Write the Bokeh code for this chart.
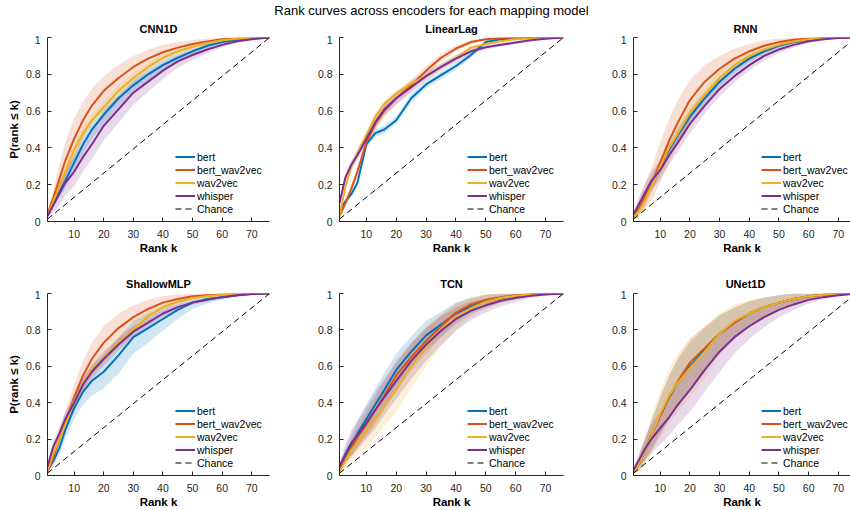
import numpy as np
from bokeh.plotting import figure
from bokeh.layouts import column, row
from bokeh.models import Range1d, FixedTicker, Legend, LegendItem
from bokeh.embed import file_html
from bokeh.resources import INLINE
from bokeh.core.properties import value

SUPTITLE = "Rank curves across encoders for each mapping model"
MODELS = ["CNN1D", "LinearLag", "RNN", "ShallowMLP", "TCN", "UNet1D"]
ENCODERS = ["bert", "bert_wav2vec", "wav2vec", "whisper"]
COLORS = ["#0072BD", "#D95319", "#EDB120", "#7E2F8E"]
X_TICKS = [10, 20, 30, 40, 50, 60, 70]
Y_TICKS = [0, 0.2, 0.4, 0.6, 0.8, 1]
Y_TICK_LABELS = ["0", "0.2", "0.4", "0.6", "0.8", "1"]
X_LABEL = "Rank k"
Y_LABEL = "P(rank \u2264 k)"
CHANCE_LABEL = "Chance"

# rank grid (k) at which the curves are read
K = [1, 3, 5, 7, 10, 13, 16, 20, 25, 30, 35, 40, 45, 50, 55, 60, 65, 70, 76]
CHANCE_K = [1, 76]
CHANCE_P = [0.013, 1.0]

# ---- CNN1D ----
CNN1D_bert = [0.03, 0.10, 0.16, 0.22, 0.32, 0.42, 0.50, 0.58, 0.67, 0.74, 0.80, 0.85, 0.89, 0.925, 0.955, 0.975, 0.988, 0.995, 1.0]
CNN1D_bert_sd = [0.005, 0.02, 0.03, 0.04, 0.045, 0.05, 0.05, 0.05, 0.045, 0.04, 0.035, 0.03, 0.025, 0.02, 0.015, 0.01, 0.006, 0.003, 0.0]
CNN1D_bert_wav2vec = [0.04, 0.13, 0.23, 0.33, 0.45, 0.55, 0.63, 0.71, 0.78, 0.84, 0.885, 0.92, 0.945, 0.965, 0.978, 0.99, 0.995, 0.998, 1.0]
CNN1D_bert_wav2vec_sd = [0.01, 0.05, 0.08, 0.10, 0.11, 0.10, 0.09, 0.08, 0.07, 0.06, 0.05, 0.04, 0.03, 0.022, 0.016, 0.01, 0.006, 0.003, 0.0]
CNN1D_wav2vec = [0.03, 0.11, 0.19, 0.27, 0.39, 0.48, 0.55, 0.62, 0.71, 0.78, 0.84, 0.89, 0.925, 0.95, 0.97, 0.985, 0.993, 0.997, 1.0]
CNN1D_wav2vec_sd = [0.005, 0.02, 0.03, 0.03, 0.035, 0.035, 0.035, 0.035, 0.035, 0.03, 0.025, 0.02, 0.018, 0.015, 0.01, 0.008, 0.005, 0.002, 0.0]
CNN1D_whisper = [0.03, 0.09, 0.15, 0.21, 0.27, 0.35, 0.42, 0.52, 0.61, 0.70, 0.76, 0.82, 0.87, 0.905, 0.935, 0.96, 0.98, 0.99, 1.0]
CNN1D_whisper_sd = [0.01, 0.04, 0.06, 0.07, 0.08, 0.08, 0.08, 0.08, 0.075, 0.065, 0.055, 0.045, 0.035, 0.028, 0.02, 0.015, 0.01, 0.005, 0.0]

# ---- LinearLag ----
LinearLag_bert = [0.06, 0.11, 0.15, 0.21, 0.42, 0.48, 0.50, 0.55, 0.67, 0.745, 0.795, 0.845, 0.905, 0.975, 0.99, 0.995, 0.998, 0.999, 1.0]
LinearLag_bert_sd = [0.01, 0.015, 0.015, 0.02, 0.02, 0.02, 0.02, 0.02, 0.025, 0.02, 0.02, 0.02, 0.015, 0.01, 0.008, 0.005, 0.004, 0.002, 0.0]
LinearLag_bert_wav2vec = [0.03, 0.10, 0.18, 0.27, 0.43, 0.53, 0.60, 0.67, 0.74, 0.82, 0.89, 0.94, 0.975, 0.99, 0.997, 0.999, 1.0, 1.0, 1.0]
LinearLag_bert_wav2vec_sd = [0.01, 0.015, 0.02, 0.025, 0.025, 0.03, 0.03, 0.03, 0.03, 0.025, 0.02, 0.015, 0.01, 0.006, 0.004, 0.002, 0.001, 0.0, 0.0]
LinearLag_wav2vec = [0.03, 0.19, 0.30, 0.37, 0.47, 0.57, 0.64, 0.695, 0.75, 0.79, 0.84, 0.89, 0.945, 0.965, 0.98, 0.99, 0.995, 0.998, 1.0]
LinearLag_wav2vec_sd = [0.01, 0.02, 0.02, 0.02, 0.02, 0.02, 0.02, 0.02, 0.02, 0.02, 0.015, 0.015, 0.01, 0.008, 0.005, 0.004, 0.003, 0.002, 0.0]
LinearLag_whisper = [0.10, 0.24, 0.31, 0.36, 0.45, 0.54, 0.61, 0.67, 0.73, 0.79, 0.84, 0.885, 0.925, 0.947, 0.96, 0.973, 0.985, 0.993, 1.0]
LinearLag_whisper_sd = [0.02, 0.02, 0.025, 0.03, 0.03, 0.035, 0.035, 0.035, 0.03, 0.025, 0.02, 0.02, 0.015, 0.012, 0.01, 0.008, 0.005, 0.003, 0.0]

# ---- RNN ----
RNN_bert = [0.02, 0.07, 0.13, 0.20, 0.30, 0.39, 0.47, 0.57, 0.67, 0.76, 0.83, 0.885, 0.925, 0.955, 0.975, 0.988, 0.995, 0.999, 1.0]
RNN_bert_sd = [0.01, 0.03, 0.04, 0.04, 0.04, 0.04, 0.04, 0.04, 0.035, 0.03, 0.025, 0.02, 0.016, 0.012, 0.01, 0.006, 0.004, 0.002, 0.0]
RNN_bert_wav2vec = [0.03, 0.08, 0.14, 0.20, 0.32, 0.44, 0.54, 0.66, 0.76, 0.83, 0.885, 0.925, 0.955, 0.975, 0.988, 0.995, 0.998, 1.0, 1.0]
RNN_bert_wav2vec_sd = [0.01, 0.04, 0.07, 0.09, 0.11, 0.12, 0.12, 0.11, 0.09, 0.07, 0.055, 0.04, 0.03, 0.02, 0.012, 0.008, 0.004, 0.002, 0.0]
RNN_wav2vec = [0.02, 0.06, 0.12, 0.19, 0.30, 0.40, 0.48, 0.59, 0.69, 0.78, 0.85, 0.90, 0.935, 0.96, 0.978, 0.99, 0.996, 0.999, 1.0]
RNN_wav2vec_sd = [0.01, 0.03, 0.04, 0.045, 0.045, 0.045, 0.045, 0.045, 0.04, 0.035, 0.03, 0.025, 0.02, 0.015, 0.01, 0.007, 0.004, 0.002, 0.0]
RNN_whisper = [0.04, 0.10, 0.16, 0.22, 0.28, 0.36, 0.43, 0.53, 0.63, 0.72, 0.79, 0.85, 0.90, 0.935, 0.96, 0.98, 0.99, 0.997, 1.0]
RNN_whisper_sd = [0.01, 0.04, 0.05, 0.05, 0.05, 0.05, 0.05, 0.05, 0.045, 0.04, 0.035, 0.03, 0.025, 0.02, 0.015, 0.01, 0.006, 0.003, 0.0]

# ---- ShallowMLP ----
ShallowMLP_bert = [0.03, 0.08, 0.15, 0.25, 0.37, 0.46, 0.52, 0.57, 0.66, 0.76, 0.81, 0.86, 0.91, 0.95, 0.97, 0.98, 0.99, 0.997, 1.0]
ShallowMLP_bert_sd = [0.01, 0.02, 0.04, 0.05, 0.06, 0.07, 0.08, 0.09, 0.10, 0.09, 0.08, 0.065, 0.05, 0.035, 0.025, 0.015, 0.01, 0.005, 0.0]
ShallowMLP_bert_wav2vec = [0.02, 0.10, 0.20, 0.29, 0.43, 0.55, 0.64, 0.73, 0.81, 0.87, 0.915, 0.95, 0.97, 0.985, 0.99, 0.995, 0.998, 1.0, 1.0]
ShallowMLP_bert_wav2vec_sd = [0.01, 0.03, 0.05, 0.06, 0.07, 0.08, 0.09, 0.09, 0.08, 0.065, 0.05, 0.035, 0.025, 0.015, 0.01, 0.006, 0.003, 0.001, 0.0]
ShallowMLP_wav2vec = [0.03, 0.12, 0.20, 0.28, 0.41, 0.50, 0.58, 0.64, 0.73, 0.80, 0.875, 0.925, 0.955, 0.975, 0.985, 0.993, 0.997, 1.0, 1.0]
ShallowMLP_wav2vec_sd = [0.01, 0.03, 0.04, 0.04, 0.04, 0.035, 0.035, 0.035, 0.03, 0.03, 0.025, 0.02, 0.015, 0.01, 0.008, 0.005, 0.003, 0.001, 0.0]
ShallowMLP_whisper = [0.05, 0.16, 0.23, 0.31, 0.40, 0.50, 0.57, 0.64, 0.72, 0.79, 0.84, 0.89, 0.925, 0.95, 0.965, 0.98, 0.99, 0.997, 1.0]
ShallowMLP_whisper_sd = [0.02, 0.03, 0.04, 0.04, 0.04, 0.04, 0.04, 0.04, 0.035, 0.03, 0.025, 0.02, 0.016, 0.012, 0.01, 0.007, 0.005, 0.002, 0.0]

# ---- TCN ----
TCN_bert = [0.04, 0.11, 0.17, 0.23, 0.31, 0.39, 0.47, 0.58, 0.68, 0.77, 0.83, 0.89, 0.93, 0.957, 0.975, 0.988, 0.995, 0.999, 1.0]
TCN_bert_sd = [0.01, 0.04, 0.06, 0.07, 0.08, 0.09, 0.09, 0.09, 0.085, 0.08, 0.07, 0.06, 0.045, 0.035, 0.025, 0.015, 0.01, 0.005, 0.0]
TCN_bert_wav2vec = [0.03, 0.09, 0.15, 0.21, 0.28, 0.36, 0.44, 0.55, 0.65, 0.74, 0.82, 0.895, 0.94, 0.965, 0.98, 0.99, 0.996, 0.999, 1.0]
TCN_bert_wav2vec_sd = [0.01, 0.03, 0.05, 0.06, 0.07, 0.08, 0.08, 0.08, 0.075, 0.07, 0.06, 0.05, 0.04, 0.03, 0.02, 0.012, 0.008, 0.004, 0.0]
TCN_wav2vec = [0.02, 0.08, 0.14, 0.18, 0.245, 0.31, 0.38, 0.47, 0.60, 0.71, 0.80, 0.87, 0.92, 0.955, 0.975, 0.988, 0.995, 0.999, 1.0]
TCN_wav2vec_sd = [0.01, 0.03, 0.05, 0.07, 0.09, 0.10, 0.11, 0.12, 0.12, 0.11, 0.09, 0.07, 0.05, 0.04, 0.03, 0.02, 0.012, 0.006, 0.0]
TCN_whisper = [0.05, 0.12, 0.18, 0.22, 0.29, 0.36, 0.43, 0.52, 0.63, 0.72, 0.795, 0.86, 0.905, 0.935, 0.96, 0.975, 0.987, 0.995, 1.0]
TCN_whisper_sd = [0.02, 0.05, 0.07, 0.08, 0.09, 0.10, 0.10, 0.10, 0.10, 0.09, 0.08, 0.065, 0.05, 0.04, 0.03, 0.02, 0.012, 0.006, 0.0]

# ---- UNet1D ----
UNet1D_bert = [0.02, 0.07, 0.14, 0.22, 0.33, 0.43, 0.51, 0.60, 0.69, 0.78, 0.84, 0.89, 0.925, 0.95, 0.97, 0.985, 0.993, 0.998, 1.0]
UNet1D_bert_sd = [0.01, 0.04, 0.06, 0.08, 0.10, 0.12, 0.13, 0.13, 0.12, 0.10, 0.08, 0.065, 0.05, 0.04, 0.03, 0.02, 0.012, 0.006, 0.0]
UNet1D_bert_wav2vec = [0.02, 0.07, 0.14, 0.22, 0.33, 0.43, 0.52, 0.62, 0.70, 0.78, 0.84, 0.89, 0.925, 0.95, 0.97, 0.985, 0.993, 0.998, 1.0]
UNet1D_bert_wav2vec_sd = [0.01, 0.04, 0.06, 0.08, 0.10, 0.12, 0.13, 0.13, 0.12, 0.10, 0.085, 0.07, 0.055, 0.04, 0.03, 0.02, 0.012, 0.006, 0.0]
UNet1D_wav2vec = [0.02, 0.07, 0.14, 0.22, 0.34, 0.44, 0.51, 0.59, 0.68, 0.78, 0.85, 0.89, 0.925, 0.95, 0.97, 0.985, 0.993, 0.998, 1.0]
UNet1D_wav2vec_sd = [0.01, 0.05, 0.08, 0.10, 0.13, 0.15, 0.16, 0.16, 0.14, 0.11, 0.09, 0.07, 0.055, 0.04, 0.03, 0.02, 0.012, 0.006, 0.0]
UNet1D_whisper = [0.03, 0.09, 0.15, 0.20, 0.26, 0.32, 0.39, 0.47, 0.58, 0.68, 0.76, 0.82, 0.87, 0.91, 0.94, 0.965, 0.98, 0.99, 1.0]
UNet1D_whisper_sd = [0.01, 0.04, 0.06, 0.08, 0.09, 0.10, 0.11, 0.12, 0.12, 0.11, 0.09, 0.07, 0.055, 0.04, 0.03, 0.02, 0.012, 0.006, 0.0]

MEANS = {
    "CNN1D": [CNN1D_bert, CNN1D_bert_wav2vec, CNN1D_wav2vec, CNN1D_whisper],
    "LinearLag": [LinearLag_bert, LinearLag_bert_wav2vec, LinearLag_wav2vec, LinearLag_whisper],
    "RNN": [RNN_bert, RNN_bert_wav2vec, RNN_wav2vec, RNN_whisper],
    "ShallowMLP": [ShallowMLP_bert, ShallowMLP_bert_wav2vec, ShallowMLP_wav2vec, ShallowMLP_whisper],
    "TCN": [TCN_bert, TCN_bert_wav2vec, TCN_wav2vec, TCN_whisper],
    "UNet1D": [UNet1D_bert, UNet1D_bert_wav2vec, UNet1D_wav2vec, UNet1D_whisper],
}
SPREADS = {
    "CNN1D": [CNN1D_bert_sd, CNN1D_bert_wav2vec_sd, CNN1D_wav2vec_sd, CNN1D_whisper_sd],
    "LinearLag": [LinearLag_bert_sd, LinearLag_bert_wav2vec_sd, LinearLag_wav2vec_sd, LinearLag_whisper_sd],
    "RNN": [RNN_bert_sd, RNN_bert_wav2vec_sd, RNN_wav2vec_sd, RNN_whisper_sd],
    "ShallowMLP": [ShallowMLP_bert_sd, ShallowMLP_bert_wav2vec_sd, ShallowMLP_wav2vec_sd, ShallowMLP_whisper_sd],
    "TCN": [TCN_bert_sd, TCN_bert_wav2vec_sd, TCN_wav2vec_sd, TCN_whisper_sd],
    "UNet1D": [UNet1D_bert_sd, UNet1D_bert_wav2vec_sd, UNet1D_wav2vec_sd, UNet1D_whisper_sd],
}

# ---------------- layout / style ----------------
FONT = "Liberation Sans"
AX_COLOR = "#262626"
TOTAL_W = 850
# (min_border_left, frame_width, min_border_right, nominal full axes width)
COLS = [(47, 222, 25, 222), (45, 224, 25, 224), (45, 217, 0, 224)]
X_END = [76, 76, 74.1]
# (min_border_top, frame_height, min_border_bottom)
ROWS = [(2, 184, 50), (3, 182, 35)]
HEADER_H = [35, 19]


def header(height, items):
    h = figure(width=TOTAL_W, height=height, x_range=Range1d(0, TOTAL_W),
               y_range=Range1d(0, height), output_backend="svg", toolbar_location=None,
               min_border=0, x_axis_location=None, y_axis_location=None)
    h.outline_line_color = None
    h.grid.visible = False
    for (x, y_from_top, txt, size, style) in items:
        h.text(x=[x], y=[height - y_from_top], text=[txt], text_font=value(FONT),
               text_font_size=size, text_font_style=style, text_align="center",
               text_baseline="middle", text_color="#000000")
    return h


def panel(name, ci, ri):
    lb, fw, rb, _ = COLS[ci]
    tb, fh, bb = ROWS[ri]
    p = figure(width=lb + fw + rb, height=tb + fh + bb,
               x_range=Range1d(1, X_END[ci]), y_range=Range1d(0, 1),
               output_backend="svg", toolbar_location=None,
               min_border_left=lb, min_border_right=rb,
               min_border_top=tb, min_border_bottom=bb)
    p.outline_line_color = None
    p.grid.visible = False

    Kx = np.array(K, dtype=float)
    for m, s, c in zip(MEANS[name], SPREADS[name], COLORS):
        m = np.array(m); s = np.array(s)
        p.varea(x=Kx, y1=np.clip(m - s, 0, 1), y2=np.clip(m + s, 0, 1),
                fill_color=c, fill_alpha=0.18)
    items = []
    for enc, m, c in zip(ENCODERS, MEANS[name], COLORS):
        r = p.line(Kx, m, line_color=c, line_width=2)
        items.append(LegendItem(label=enc, renderers=[r]))
    rc = p.line(CHANCE_K, CHANCE_P, line_color="#000000", line_width=1, line_dash="6 4")
    items.append(LegendItem(label=CHANCE_LABEL, renderers=[rc]))

    leg = Legend(items=items, location=(128, 6), padding=0, margin=0, spacing=0,
                 glyph_width=20, glyph_height=13, label_height=13, label_standoff=2,
                 label_text_font=FONT, label_text_font_size="10.5px",
                 label_text_color="#000000",
                 background_fill_alpha=0, border_line_color=None)
    p.add_layout(leg)

    p.xaxis.ticker = FixedTicker(ticks=X_TICKS)
    p.yaxis.ticker = FixedTicker(ticks=Y_TICKS)
    p.yaxis.major_label_overrides = {t: l for t, l in zip(Y_TICKS, Y_TICK_LABELS)}
    for ax in (p.xaxis[0], p.yaxis[0]):
        ax.axis_line_color = AX_COLOR
        ax.major_tick_line_color = AX_COLOR
        ax.minor_tick_line_color = None
        ax.major_tick_in = 4
        ax.major_tick_out = 0
        ax.major_label_text_font = FONT
        ax.major_label_text_font_size = "10.5px"
        ax.major_label_text_color = AX_COLOR
        ax.axis_label_text_font = FONT
        ax.axis_label_text_font_size = "11.5px"
        ax.axis_label_text_font_style = "bold"
        ax.axis_label_text_color = "#000000"
    p.xaxis.axis_label = X_LABEL
    p.xaxis.major_label_standoff = 8
    p.xaxis.axis_label_standoff = 1
    p.yaxis.major_label_standoff = 7
    if ci == 0:
        p.yaxis.axis_label = Y_LABEL
        p.yaxis.axis_label_standoff = 3
    return p


def title_items(models, y_from_top):
    out = []
    x0 = 0
    for ci, name in enumerate(models):
        lb, fw, rb, full = COLS[ci]
        out.append((x0 + lb + full / 2.0, y_from_top, name, "11px", "bold"))
        x0 += lb + fw + rb
    return out


h1 = header(HEADER_H[0], [(431, 10, SUPTITLE, "13px", "normal")] + title_items(MODELS[:3], 28.5))
h2 = header(HEADER_H[1], title_items(MODELS[3:], 12))
r1 = row(*[panel(MODELS[i], i, 0) for i in range(3)], spacing=0)
r2 = row(*[panel(MODELS[3 + i], i, 1) for i in range(3)], spacing=0)
layout = column(h1, r1, h2, r2, spacing=0)

open("out.html", "w").write(file_html(layout, INLINE))
